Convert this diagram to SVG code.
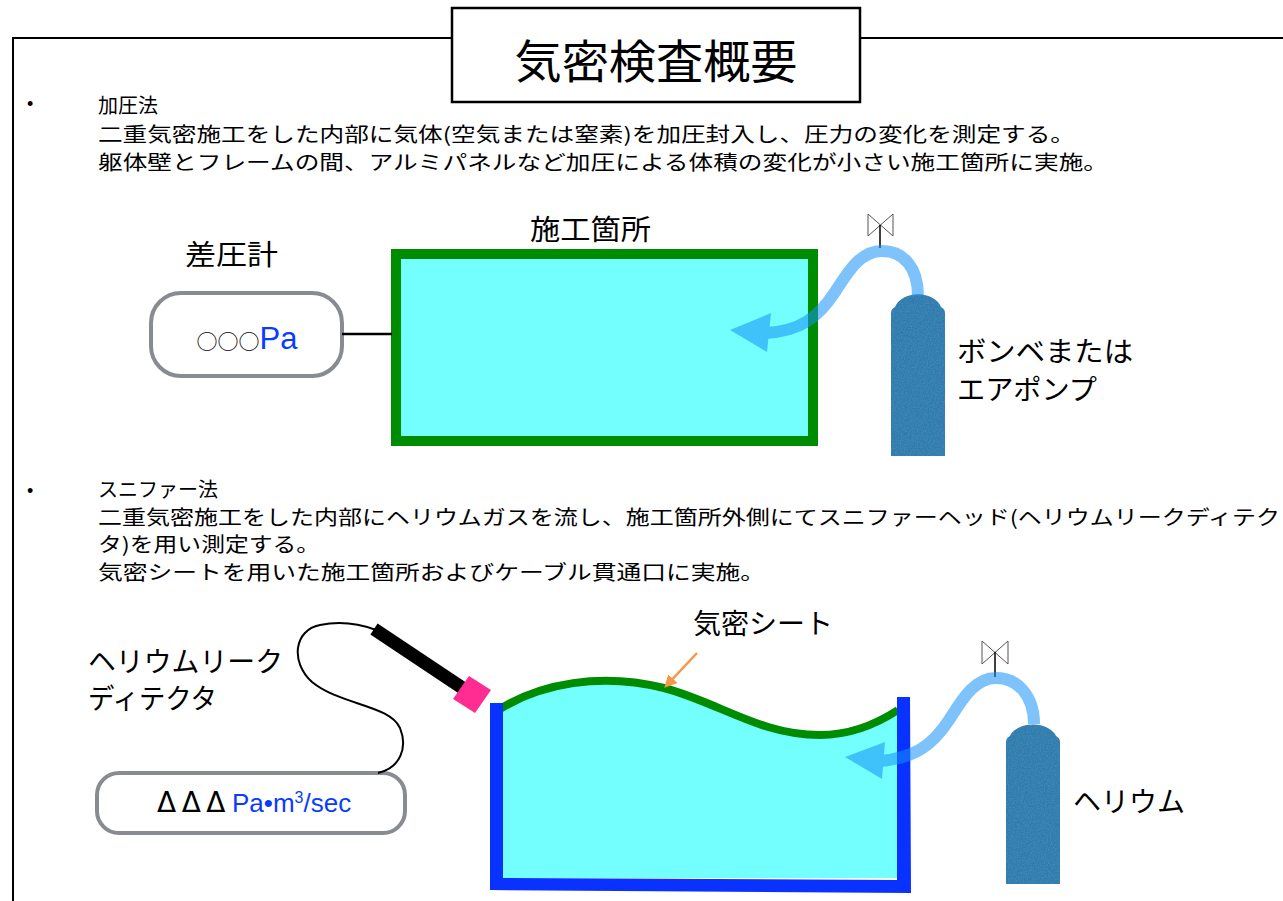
<svg xmlns="http://www.w3.org/2000/svg" width="1283" height="901" viewBox="0 0 1283 901">
  <style>
    .jp { font-family: "Noto Sans CJK JP", "Noto Sans", sans-serif; fill: #000; }
    .body { font-size: 20px; }
    .lbl { font-size: 28px; }
    .lat { font-family: "Liberation Sans", Arial, sans-serif; }
    .blue { fill: #0A3CFF; }
    .frame { fill: none; stroke: #000; stroke-width: 2; }
    .gauge { fill: #fff; stroke: #888B8F; stroke-width: 4; }
    .wall-green { fill: none; stroke: #008C00; }
    .tank { fill: #2E7BAD; filter: url(#grain); }
    .hose { fill: none; stroke: #1492F6; stroke-width: 12; stroke-linecap: butt; }
    .hose-head { fill: #1492F6; }
    .valve { fill: #fff; stroke: #555; stroke-width: 1; }
    .stem { stroke: #000; stroke-width: 1.5; }
  </style>
  <defs>
    <marker id="orangeHead" viewBox="0 0 10 10" refX="8" refY="5" markerWidth="5" markerHeight="5" orient="auto">
      <path d="M0,0 L10,5 L0,10 Z" fill="#F79646"/>
    </marker>
    <!-- mottled paint texture for the gas cylinders -->
    <filter id="grain" x="0" y="0" width="1" height="1">
      <feTurbulence type="fractalNoise" baseFrequency="0.7" numOctaves="2" seed="4" result="noise"/>
      <feColorMatrix in="noise" type="matrix" values="0 0 0 0 0.12  0 0 0 0 0.36  0 0 0 0 0.55  0 0 0 0.7 -0.25" result="tint"/>
      <feComposite in="tint" in2="SourceGraphic" operator="in" result="spots"/>
      <feMerge><feMergeNode in="SourceGraphic"/><feMergeNode in="spots"/></feMerge>
    </filter>
  </defs>

  <rect width="1283" height="901" fill="#fff"/>

  <!-- outer frame -->
  <g id="frame">
    <polyline class="frame" points="452,38 13,38 13,901"/>
    <line class="frame" x1="860" y1="38" x2="1283" y2="38"/>
  </g>

  <!-- title -->
  <g id="title">
    <rect x="452" y="8" width="408" height="94" fill="#fff" stroke="#000" stroke-width="2.5"/>
    <text class="jp" x="656" y="78" font-size="46" text-anchor="middle" textLength="283" lengthAdjust="spacingAndGlyphs">気密検査概要</text>
  </g>

  <!-- section 1 text -->
  <g id="method-pressure">
    <text class="lat" x="27" y="110" font-size="18">•</text>
    <text class="jp body" x="98" y="113">加圧法</text>
    <text class="jp body" x="98" y="142" textLength="977" lengthAdjust="spacingAndGlyphs">二重気密施工をした内部に気体(空気または窒素)を加圧封入し、圧力の変化を測定する。</text>
    <text class="jp body" x="98" y="170" textLength="1010" lengthAdjust="spacingAndGlyphs">躯体壁とフレームの間、アルミパネルなど加圧による体積の変化が小さい施工箇所に実施。</text>
  </g>

  <!-- section 2 text -->
  <g id="method-sniffer">
    <text class="lat" x="27" y="497" font-size="18">•</text>
    <text class="jp body" x="98" y="497">スニファー法</text>
    <text class="jp body" x="98" y="525" textLength="1182" lengthAdjust="spacingAndGlyphs">二重気密施工をした内部にヘリウムガスを流し、施工箇所外側にてスニファーヘッド(ヘリウムリークディテク</text>
    <text class="jp body" x="98" y="552" textLength="222" lengthAdjust="spacingAndGlyphs">タ)を用い測定する。</text>
    <text class="jp body" x="98" y="580" textLength="667" lengthAdjust="spacingAndGlyphs">気密シートを用いた施工箇所およびケーブル貫通口に実施。</text>
  </g>

  <!-- ===== diagram 1: pressurisation ===== -->
  <g id="site1">
    <text class="jp lbl" x="530" y="240" textLength="121" lengthAdjust="spacingAndGlyphs">施工箇所</text>
    <rect x="396" y="254" width="417" height="187" fill="#74FFFF" stroke="#008C00" stroke-width="10"/>
  </g>

  <g id="manometer">
    <text class="jp lbl" x="185" y="265" textLength="93" lengthAdjust="spacingAndGlyphs">差圧計</text>
    <rect class="gauge" x="151" y="293" width="191" height="83" rx="30"/>
    <text x="247" y="349" text-anchor="middle"><tspan class="jp" font-size="21">○○○</tspan><tspan class="lat blue" font-size="31">Pa</tspan></text>
  </g>

  <g id="cylinder1">
    <path class="tank" d="M891,456 V313 Q891,309 895,307 A24,18 0 0 1 941,307 Q945,309 945,313 V456 Z"/>
    <text class="jp lbl" x="957" y="362" textLength="176" lengthAdjust="spacingAndGlyphs">ボンベまたは</text>
    <text class="jp lbl" x="957" y="400" textLength="140" lengthAdjust="spacingAndGlyphs">エアポンプ</text>
  </g>

  <g id="valve1">
    <path class="valve" d="M868,214 L893,236 L893,214 L868,236 Z"/>
    <line class="stem" x1="880" y1="225" x2="880" y2="248"/>
  </g>

  <!-- ===== diagram 2: sniffer ===== -->
  <g id="site2">
    <path d="M502,708 C540,684 600,672 664,688 C720,703 760,735 820,735 C850,735 875,725 898,710 L898,878 L502,878 Z" fill="#74FFFF"/>
    <path class="wall-green" stroke-width="8" d="M500,709 C540,684 600,672 664,688 C720,703 760,735 820,735 C850,735 875,725 898,710"/>
    <path d="M490,703 L503,703 L503,878 L897,880 L897,697 L910,697 L911,893 L490,890 Z" fill="#0A32FF"/>
    <text class="jp lbl" x="693" y="634" textLength="140" lengthAdjust="spacingAndGlyphs">気密シート</text>
  </g>

  <g id="detector">
    <text class="jp lbl" x="88" y="672" textLength="195" lengthAdjust="spacingAndGlyphs">ヘリウムリーク</text>
    <text class="jp lbl" x="88" y="709" textLength="129" lengthAdjust="spacingAndGlyphs">ディテクタ</text>
    <rect class="gauge" x="97" y="773" width="308" height="60" rx="22"/>
    <text x="157" y="812" font-size="26" class="lat"><tspan font-family="DejaVu Sans" font-size="28" letter-spacing="5.5">ΔΔΔ</tspan><tspan class="blue" x="232">Pa•m</tspan><tspan class="blue" font-size="16" dy="-9">3</tspan><tspan class="blue" dy="9">/sec</tspan></text>
  </g>

  <g id="sniffer-head">
    <line x1="374" y1="629" x2="464" y2="689" stroke="#000" stroke-width="13"/>
    <polygon points="469,676 491,690 475,713 453,699" fill="#FF2D92"/>
  </g>

  <g id="cylinder2">
    <path class="tank" d="M1006,884 V742 Q1006,738 1010,736 A24,16 0 0 1 1056,736 Q1060,738 1060,742 V884 Z"/>
    <text class="jp lbl" x="1073" y="812" textLength="112" lengthAdjust="spacingAndGlyphs">ヘリウム</text>
  </g>

  <g id="valve2">
    <path class="valve" d="M982,641 L1008,664 L1008,641 L982,664 Z"/>
    <line class="stem" x1="995" y1="652" x2="995" y2="677"/>
  </g>

  <!-- connectors -->
  <g id="connectors">
    <!-- manometer tap -->
    <line x1="342" y1="334" x2="392" y2="334" stroke="#000" stroke-width="2.5"/>
    <!-- gas feed 1 -->
    <g opacity="0.55">
      <path class="hose" d="M918,296 C918,268 904,251 882,251 C860,251 848,272 835,292 C818,318 800,331 766,333"/>
      <polygon class="hose-head" points="730,330 771,313 767,352"/>
    </g>
    <!-- gas feed 2 -->
    <g opacity="0.55">
      <path class="hose" d="M1034,724 C1034,696 1018,678 996,678 C974,678 962,700 949,720 C932,746 914,758 880,761"/>
      <polygon class="hose-head" points="845,757 885,742 882,779"/>
    </g>
    <!-- detector cable -->
    <path d="M378,773 C400,768 408,748 400,728 C390,705 340,705 312,682 C290,662 294,630 320,625 C340,621 360,624 376,630" fill="none" stroke="#000" stroke-width="2"/>
    <!-- sheet callout -->
    <line x1="697" y1="653" x2="666" y2="686" stroke="#F79646" stroke-width="2.5" marker-end="url(#orangeHead)"/>
  </g>
</svg>
